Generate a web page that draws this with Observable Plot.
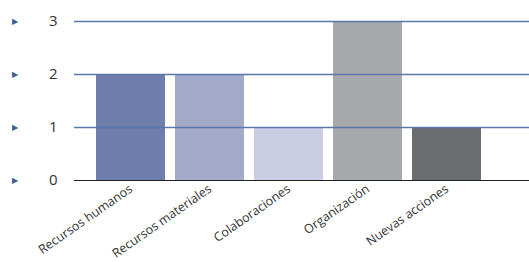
<!DOCTYPE html>
<html>
<head>
<meta charset="utf-8">
<script src="https://cdn.jsdelivr.net/npm/d3@7"></script>
<script src="https://cdn.jsdelivr.net/npm/@observablehq/plot@0.6"></script>
<style>
  html, body { margin: 0; padding: 0; background: #fff; }
  #chart { width: 529px; height: 262px; }
</style>
</head>
<body>
<div id="chart"></div>
<script>
const categories = ["Recursos humanos", "Recursos materiales", "Colaboraciones", "Organización", "Nuevas acciones"];
const values = [2, 2, 1, 3, 1];
const barColors = ["#6e7ead", "#a3aac9", "#c9cce3", "#a7a8ab", "#6c6d70"];
const yTicks = [0, 1, 2, 3];

const data = categories.map((c, i) => ({ category: c, value: values[i], color: barColors[i] }));

const chart = Plot.plot({
  width: 529,
  height: 262,
  marginTop: 21,
  marginBottom: 82,
  marginLeft: 74,
  marginRight: 0,
  style: { fontFamily: "'Open Sans', sans-serif", background: "#fff", color: "#333" },
  x: { domain: categories, range: [85, 492], padding: 0.13, label: null },
  y: { domain: [0, 3], ticks: yTicks, label: null },
  marks: [
    Plot.barY(data, { x: "category", y: "value", fill: "color" }),
    Plot.ruleY(yTicks.filter(d => d > 0), { stroke: "#5b76a8", strokeWidth: 1.3 }),
    Plot.ruleY([0], { stroke: "#222", strokeWidth: 1.2 }),
    Plot.axisY({ ticks: yTicks, tickFormat: "d", tickSize: 0, tickPadding: 17, fontSize: 15, fill: "#333", label: null }),
    Plot.text(yTicks, { y: d => d, frameAnchor: "left", dx: -63, text: () => "▶", fill: "#3d5d93", fontSize: 8 }),
    Plot.axisX({ tickSize: 0, tickRotate: -35, tickPadding: 7, fontSize: 12.5, fill: "#333", label: null })
  ]
});
document.getElementById("chart").appendChild(chart);
</script>
</body>
</html>
